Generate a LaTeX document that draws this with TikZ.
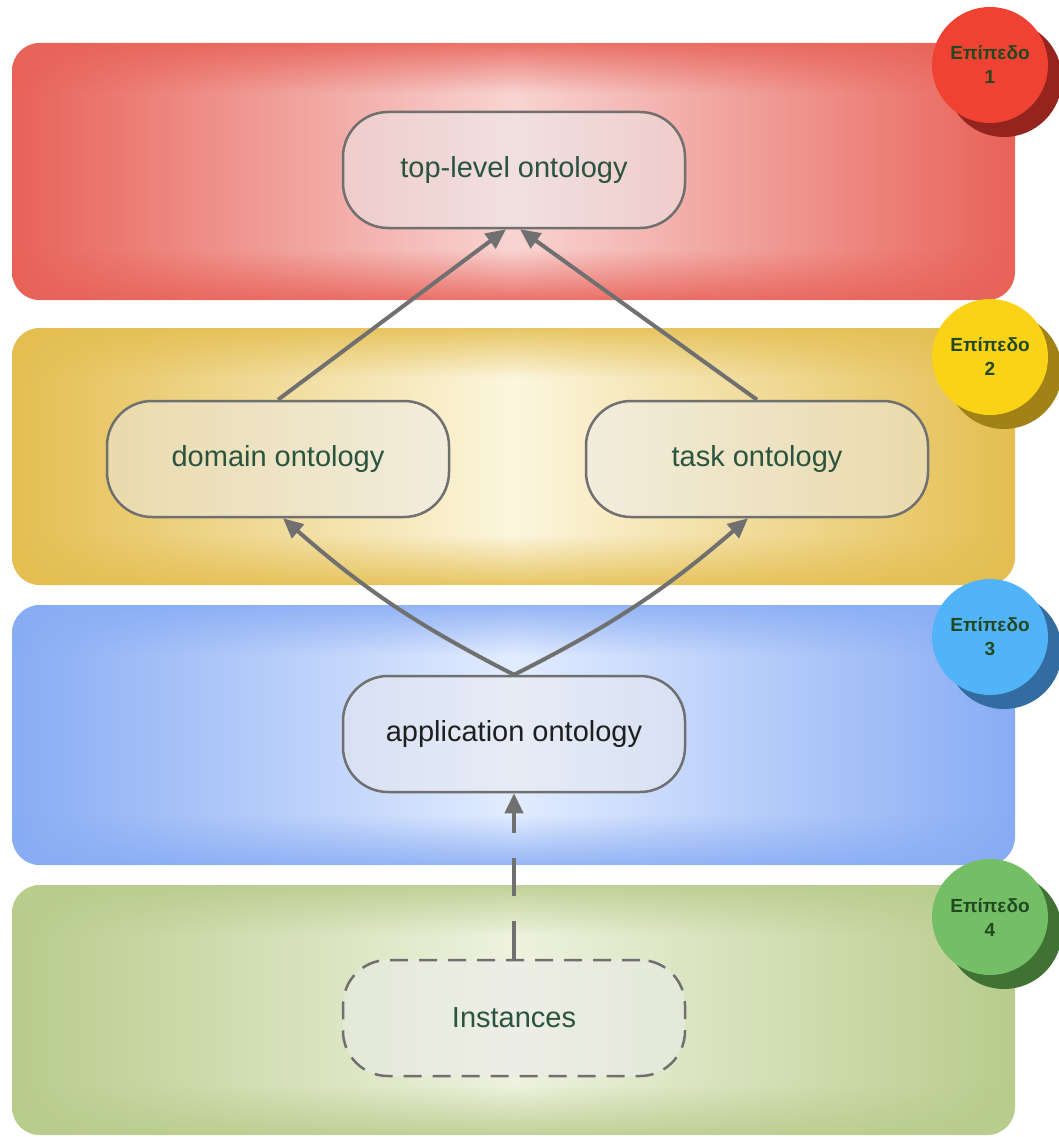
\documentclass[tikz,border=0pt]{standalone}
\usepackage{fontspec}
\setmainfont{Liberation Sans}
\usetikzlibrary{arrows.meta,fadings}

% strips that darken the top and bottom edge of every band
\tikzfading[name=edgetop, top color=transparent!15, bottom color=transparent!100]
\tikzfading[name=edgebottom, top color=transparent!100, bottom color=transparent!15]

\definecolor{redE}{RGB}{232,98,88}
\definecolor{redC}{RGB}{248,212,210}
\definecolor{yelE}{RGB}{228,190,80}
\definecolor{yelC}{RGB}{252,246,222}
\definecolor{bluE}{RGB}{136,172,244}
\definecolor{bluC}{RGB}{226,236,255}
\definecolor{grnE}{RGB}{184,204,140}
\definecolor{grnC}{RGB}{238,242,222}
\definecolor{redF}{RGB}{240,66,50}
\definecolor{redS}{RGB}{150,36,30}
\definecolor{yelF}{RGB}{250,210,22}
\definecolor{yelS}{RGB}{160,130,22}
\definecolor{bluF}{RGB}{82,180,248}
\definecolor{bluS}{RGB}{50,108,160}
\definecolor{grnF}{RGB}{116,190,102}
\definecolor{grnS}{RGB}{64,114,54}
\definecolor{linegray}{RGB}{112,112,112}
\definecolor{nodefill}{RGB}{236,236,238}
\definecolor{txtgreen}{RGB}{42,84,62}
\definecolor{lvltxt}{RGB}{34,72,34}

\begin{document}
\begin{tikzpicture}[x=1pt,y=-1pt,
  onto/.style={draw=linegray, line width=2.5pt, rounded corners=45pt,
    minimum width=342pt, minimum height=116pt, inner sep=0pt,
    fill=nodefill, fill opacity=0.5, text opacity=1,
    font=\fontsize{29}{33}\selectfont, text=txtgreen},
  conn/.style={draw=linegray, line width=4pt,
    -{Triangle[length=20pt,width=18pt]}},
  lvl/.style={align=center, inner sep=0pt, text=lvltxt,
    font=\bfseries\fontsize{19}{24}\selectfont}]

\useasboundingbox (0,0) rectangle (1059,1137);

% the four level bands
\foreach \yt/\yb/\e/\c in {43/300/redE/redC, 328/585/yelE/yelC,
                             605/865/bluE/bluC, 885/1135/grnE/grnC} {
  \shade[rounded corners=28pt, left color=\e, right color=\e, middle color=\c]
    (12,\yt) rectangle (1015,\yb);
  \begin{scope}
    \clip[rounded corners=28pt] (12,\yt) rectangle (1015,\yb);
    \fill[\e, path fading=edgetop] (12,\yt) rectangle (1015,\yt+50);
    \fill[\e, path fading=edgebottom] (12,\yb-50) rectangle (1015,\yb);
  \end{scope}
}

% level badges with their drop shadows
\foreach \cy/\f/\s/\n in {65/redF/redS/1, 357/yelF/yelS/2,
                          637/bluF/bluS/3, 917/grnF/grnS/4} {
  \fill[\s] (1004,\cy+14) circle[radius=58pt];
  \fill[\f] (990,\cy) circle[radius=58pt];
  \node[lvl] (lvl\n) at (990,\cy) {Επίπεδο\\\n};
}

% ontology nodes
\node[onto] (top)  at (514,170)  {top-level ontology};
\node[onto] (dom)  at (278,459)  {domain ontology};
\node[onto] (task) at (757,459)  {task ontology};
\node[onto, text=black!88] (app) at (514,734) {application ontology};
\node[onto, dash pattern=on 18pt off 11pt] (inst) at (514,1018) {Instances};

% connectors
\draw[conn] (dom.north) -- ([xshift=-8pt]top.south);
\draw[conn] (task.north) -- ([xshift=6pt]top.south);
\draw[conn] (app.north) to[bend left=7] ([xshift=5pt]dom.south);
\draw[conn] (app.north) to[bend right=7] ([xshift=-9pt]task.south);
\draw[conn, dash pattern=on 38pt off 25pt] (inst.north) -- (app.south);
\end{tikzpicture}
\end{document}
